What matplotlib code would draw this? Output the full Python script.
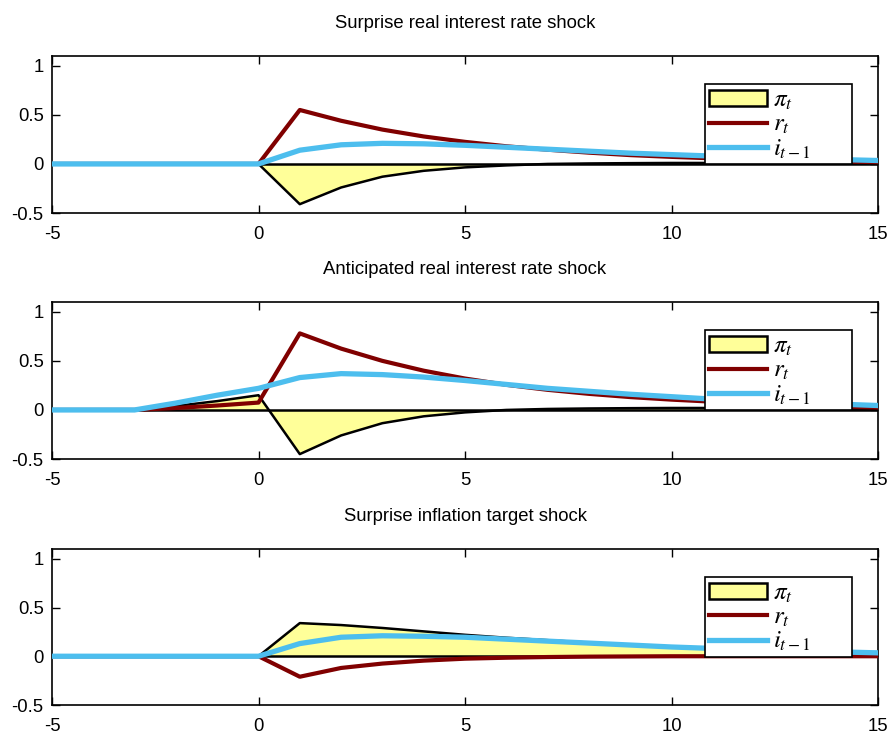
import matplotlib
matplotlib.use("Agg")
import matplotlib.pyplot as plt
from matplotlib.patches import Patch
from matplotlib.lines import Line2D

plt.rcParams['font.family'] = ['Liberation Sans', 'DejaVu Sans']
plt.rcParams['mathtext.fontset'] = 'stix'

t = list(range(-5, 16))

titles = ["Surprise real interest rate shock",
          "Anticipated real interest rate shock",
          "Surprise inflation target shock"]

# panel 1: surprise real interest rate shock
pi_1 = [0, 0, 0, 0, 0, 0, -0.41, -0.24, -0.13, -0.07, -0.035, -0.015, 0.0, 0.005,
        0.008, 0.01, 0.01, 0.01, 0.01, 0.008, 0.007]
r_1 = [0, 0, 0, 0, 0, 0, 0.55, 0.44, 0.35, 0.28, 0.225, 0.18, 0.145, 0.115, 0.09,
       0.072, 0.057, 0.045, 0.035, 0.026, 0.018]
i_1 = [0, 0, 0, 0, 0, 0, 0.14, 0.195, 0.21, 0.205, 0.19, 0.17, 0.15, 0.13, 0.11,
       0.095, 0.08, 0.067, 0.056, 0.045, 0.035]

# panel 2: anticipated real interest rate shock
pi_2 = [0, 0, 0, 0.04, 0.09, 0.15, -0.45, -0.26, -0.135, -0.065, -0.025, 0.0, 0.01,
        0.015, 0.018, 0.02, 0.02, 0.018, 0.016, 0.014, 0.012]
r_2 = [0, 0, 0, 0.02, 0.045, 0.075, 0.78, 0.625, 0.5, 0.4, 0.32, 0.256, 0.205, 0.164,
       0.131, 0.105, 0.084, 0.066, 0.05, 0.036, 0.025]
i_2 = [0, 0, 0, 0.07, 0.15, 0.22, 0.33, 0.37, 0.36, 0.335, 0.30, 0.26, 0.22, 0.19,
       0.16, 0.135, 0.11, 0.09, 0.075, 0.06, 0.045]

# panel 3: surprise inflation target shock
pi_3 = [0, 0, 0, 0, 0, 0, 0.34, 0.32, 0.29, 0.255, 0.22, 0.19, 0.165, 0.14, 0.12,
        0.1, 0.085, 0.07, 0.058, 0.047, 0.038]
r_3 = [0, 0, 0, 0, 0, 0, -0.21, -0.12, -0.075, -0.045, -0.025, -0.015, -0.008,
       -0.004, -0.002, 0, 0, 0, 0, 0, 0]
i_3 = [0, 0, 0, 0, 0, 0, 0.13, 0.195, 0.21, 0.205, 0.195, 0.175, 0.155, 0.135, 0.115,
       0.095, 0.08, 0.066, 0.055, 0.045, 0.035]

panels = [(pi_1, r_1, i_1), (pi_2, r_2, i_2), (pi_3, r_3, i_3)]

xticks = [-5, 0, 5, 10, 15]
xticklabels = ['-5', '0', '5', '10', '15']
yticks = [-0.5, 0, 0.5, 1]
yticklabels = ['-0.5', '0', '0.5', '1']
legend_labels = [r'$\pi_t$', r'$r_t$', r'$i_{t-1}$']

yellow = '#FFFF99'
red = '#800000'
blue = '#4DBEEE'

fig = plt.figure(figsize=(8.91, 7.34), dpi=100)
W, H = 891, 734
boxes = [(56, 213), (302, 459), (549, 705)]
left, right = 52, 878

for k, ((pi, r, i), (top, bot)) in enumerate(zip(panels, boxes)):
    ax = fig.add_axes([left / W, 1 - bot / H, (right - left) / W, (bot - top) / H])
    ax.fill_between(t, 0, pi, facecolor=yellow, edgecolor='none', zorder=1)
    ax.plot(t, pi, color='black', lw=1.8, zorder=2)
    ax.axhline(0, color='black', lw=1.8, zorder=2)
    ax.plot(t, r, color=red, lw=3.0, zorder=3)
    ax.plot(t, i, color=blue, lw=3.8, zorder=4)
    ax.set_xlim(-5, 15)
    ax.set_ylim(-0.5, 1.1)
    ax.set_xticks(xticks)
    ax.set_yticks(yticks)
    ax.set_yticklabels(yticklabels)
    ax.set_xticklabels(xticklabels)
    ax.tick_params(direction='in', top=True, right=True, length=6, width=1,
                   labelsize=13.3)
    ax.tick_params(axis='x', pad=9.5)
    ax.tick_params(axis='y', pad=6)
    for s in ax.spines.values():
        s.set_linewidth(1.2)
    ax.set_title(titles[k], fontsize=13.3, pad=20.5)
    handles = [Patch(facecolor=yellow, edgecolor='black', linewidth=1.8),
               Line2D([], [], color=red, lw=3.0),
               Line2D([], [], color=blue, lw=3.8)]
    leg = ax.legend(handles, [lab + '      ' for lab in legend_labels],
                    loc='upper right', bbox_to_anchor=(0.9685, 0.822),
                    borderaxespad=0, fontsize=18, handlelength=2.3,
                    handleheight=0.6, handletextpad=0.25, labelspacing=0.0,
                    borderpad=0.15, fancybox=False, framealpha=1,
                    edgecolor='black')
    leg.get_frame().set_linewidth(1.2)

fig.savefig('out.png', dpi=100)
